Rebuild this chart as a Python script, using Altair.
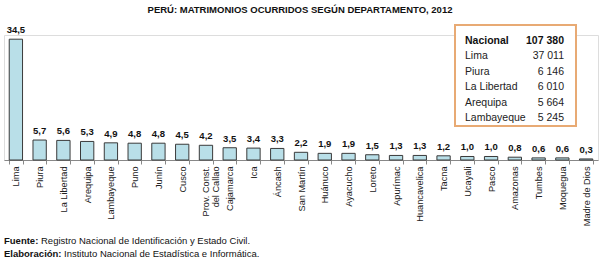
import altair as alt
import pandas as pd

departamentos = ["Lima", "Piura", "La Libertad", "Arequipa", "Lambayeque", "Puno", "Junín",
                 "Cusco", "Prov. Const. del Callao", "Cajamarca", "Ica", "Áncash", "San Martín",
                 "Huánuco", "Ayacucho", "Loreto", "Apurímac", "Huancavelica", "Tacna", "Ucayali",
                 "Pasco", "Amazonas", "Tumbes", "Moquegua", "Madre de Dios"]
porcentajes = [34.5, 5.7, 5.6, 5.3, 4.9, 4.8, 4.8, 4.5, 4.2, 3.5, 3.4, 3.3, 2.2,
               1.9, 1.9, 1.5, 1.3, 1.3, 1.2, 1.0, 1.0, 0.8, 0.6, 0.6, 0.3]

inset_nombres = ["Nacional", "Lima", "Piura", "La Libertad", "Arequipa", "Lambayeque"]
inset_valores = ["107 380", "37 011", "6 146", "6 010", "5 664", "5 245"]

titulo = "PERÚ: MATRIMONIOS OCURRIDOS SEGÚN DEPARTAMENTO, 2012"
fuente_b, fuente_r = "Fuente:", "Registro Nacional de Identificación y Estado Civil."
elab_b, elab_r = "Elaboración:", "Instituto Nacional de Estadística e Informática."

FONT = "Liberation Sans"
W, H = 594, 125

df = pd.DataFrame({"dep": departamentos, "v": porcentajes})
inset = pd.DataFrame({"n": inset_nombres, "val": inset_valores})
one = pd.DataFrame({"a": [0]})

x = alt.X("dep:N", sort=departamentos, title=None,
          scale=alt.Scale(paddingInner=0.44, paddingOuter=0.22),
          axis=alt.Axis(labelAngle=-90, tickBand="extent", tickSize=4, labelPadding=2,
                        labelFontSize=9.2, labelFont=FONT, labelColor="#222",
                        domainColor="#888", tickColor="#888", labelLineHeight=10,
                        labelExpr="datum.label == 'Prov. Const. del Callao' ? ['Prov. Const.', 'del Callao'] : datum.label"))
y = alt.Y("v:Q", scale=alt.Scale(domain=[0, 35.7]), axis=None)

bars = alt.Chart(df).mark_bar(fill="#b9dfe8", stroke="#3a3a3a", strokeWidth=1).encode(x=x, y=y)
labels = alt.Chart(df).transform_calculate(
    lab="replace(format(datum.v, '.1f'), '.', ',')"
).mark_text(font=FONT, fontSize=9.5, fontWeight="bold", baseline="bottom", dy=-4, color="#111").encode(
    x=x, y=y, text="lab:N")

box = alt.Chart(one).mark_rect(fill="white", stroke="#e8aa74", strokeWidth=2).encode(
    x=alt.value(451), x2=alt.value(572), y=alt.value(-10), y2=alt.value(91))

yrow = alt.Y("n:N", axis=None, scale=alt.Scale(type="point", domain=inset_nombres, range=[6, 83], padding=0))
nat = inset[inset.n == "Nacional"]
rest = inset[inset.n != "Nacional"]
t1 = alt.Chart(nat).mark_text(font=FONT, fontSize=10.5, fontWeight="bold", align="left", baseline="middle", color="#111").encode(
    x=alt.value(461), y=yrow, text="n:N")
t2 = alt.Chart(nat).mark_text(font=FONT, fontSize=10.5, fontWeight="bold", align="right", baseline="middle", color="#111").encode(
    x=alt.value(560), y=yrow, text="val:N")
t3 = alt.Chart(rest).mark_text(font=FONT, fontSize=10.5, align="left", baseline="middle", color="#222").encode(
    x=alt.value(461), y=yrow, text="n:N")
t4 = alt.Chart(rest).mark_text(font=FONT, fontSize=10.5, align="right", baseline="middle", color="#222").encode(
    x=alt.value(560), y=yrow, text="val:N")

title = alt.Chart(one).mark_text(font=FONT, fontSize=9.5, fontWeight="bold", align="center", baseline="middle", color="#111").encode(
    x=alt.value(296), y=alt.value(-25), text=alt.value(titulo))

def foot(txt, xx, yy, bold):
    return alt.Chart(one).mark_text(font=FONT, fontSize=9.5, fontWeight="bold" if bold else "normal",
                                    align="left", baseline="middle", color="#111").encode(
        x=alt.value(xx), y=alt.value(yy), text=alt.value(txt))

f1 = foot(fuente_b, 0, 206, True)
f2 = foot(fuente_r, 37, 206, False)
f3 = foot(elab_b, 0, 219, True)
f4 = foot(elab_r, 60, 219, False)

chart = alt.layer(bars, labels, box, t1, t2, t3, t4, title, f1, f2, f3, f4).resolve_scale(
    y="independent"
).properties(
    width=W, height=H, autosize=alt.AutoSizeParams(type="none"),
    padding={"left": 4, "top": 35, "right": 2, "bottom": 102}
).configure_view(stroke=None).configure(background="white")

chart.save("out.html", embed_options={"renderer": "svg", "actions": False})
